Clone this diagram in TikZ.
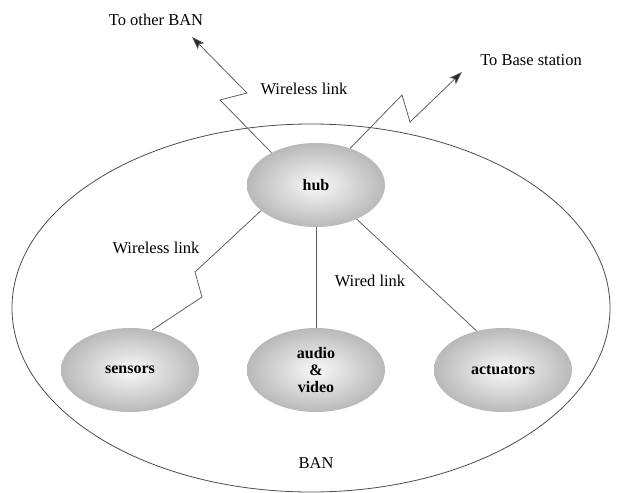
\documentclass[tikz,border=0pt]{standalone}
\usepackage{fontspec}
\setmainfont{Liberation Serif}
\usetikzlibrary{shapes.geometric,arrows.meta}
\begin{document}
\begin{tikzpicture}[x=1pt,y=-1pt,
  lbl/.style={font=\fontsize{16.5}{19}\selectfont, inner sep=0pt},
  dev/.style={ellipse, minimum width=138pt, minimum height=84pt, inner sep=0pt,
    shading=radial, inner color=gray!5, outer color=gray!55,
    font=\fontsize{16}{18}\selectfont\bfseries, align=center},
  link/.style={draw=black!65, line width=0.75pt},
  arr/.style={link, -{Stealth[length=13pt,width=9pt,inset=3pt,fill=black!85]}}]
\useasboundingbox (0,0) rectangle (619,493);
% BAN boundary
\node (ban) [ellipse, draw=black!70, line width=0.8pt, minimum width=598pt, minimum height=368pt, inner sep=0pt] at (311,308) {};
\node (banlbl) [lbl] at (316,463) {BAN};
% devices
\node (hub) [dev] at (316,185) {hub};
\node (sensors) [dev] at (130,370) {sensors};
\node (av) [dev] at (316,370) {audio\\[-1pt]\&\\[-1pt]video};
\node (act) [dev] at (503,370) {actuators};
% external targets
\coordinate (other) at (192,37);
\coordinate (base) at (462,72);
\coordinate (o1) at (220,100);
\coordinate (o2) at (247,93);
\coordinate (b1) at (402,95);
\coordinate (b2) at (410,122);
\coordinate (s1) at (202,297);
\coordinate (s2) at (195,272);
% links
\draw[arr] (hub.144) -- (o1) -- (o2) -- (other);
\draw[arr] (hub.47) -- (b1) -- (b2) -- (base);
\draw[link] (sensors.61) -- (s1) -- (s2) -- (hub.205);
\draw[link] (hub.south) -- (av.north);
\draw[link] (hub.-40) -- (act.124);
% labels
\node (tother) [lbl] at (156,20) {To other BAN};
\node (tbase) [lbl] at (531,60) {To Base station};
\node (wl1) [lbl] at (304,89) {Wireless link};
\node (wl2) [lbl] at (156,248) {Wireless link};
\node (wired) [lbl] at (370,281) {Wired link};
\end{tikzpicture}
\end{document}
